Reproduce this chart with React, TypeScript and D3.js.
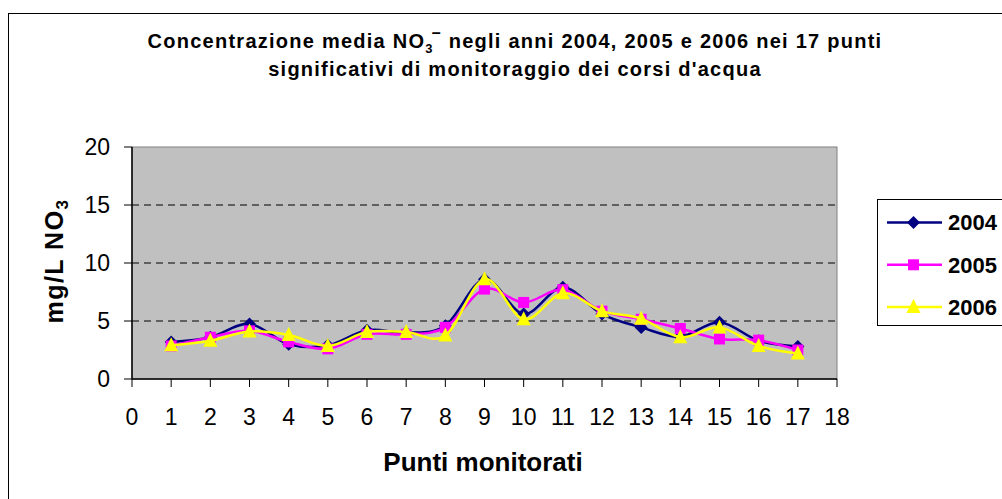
import React from "react";
import * as d3 from "d3";

const points = [1, 2, 3, 4, 5, 6, 7, 8, 9, 10, 11, 12, 13, 14, 15, 16, 17];
const v2004 = [3.2, 3.6, 4.75, 3.0, 2.9, 4.2, 4.0, 4.6, 8.6, 5.6, 7.9, 5.6, 4.45, 3.65, 4.9, 3.3, 2.8];
const v2005 = [2.85, 3.6, 4.15, 3.2, 2.6, 3.85, 3.85, 4.45, 7.75, 6.6, 7.7, 5.85, 5.15, 4.35, 3.45, 3.35, 2.5];
const v2006 = [2.9, 3.3, 4.1, 3.8, 2.85, 4.05, 4.05, 3.75, 8.6, 5.15, 7.4, 5.85, 5.2, 3.6, 4.45, 2.85, 2.2];
const xTicks = d3.range(0, 19);
const yTicks = [0, 5, 10, 15, 20];
const gridTicks = [5, 10, 15];
const seriesNames = ["2004", "2005", "2006"];
const seriesColors = ["#000080", "#FF00FF", "#FFFF00"];
const seriesShapes = ["diamond", "square", "triangle"];
const seriesValues = [v2004, v2005, v2006];

const L = 132, R = 837, T = 147, B = 379;

function Marker({ shape, x, y, color }: { shape: string; x: number; y: number; color: string }) {
  if (shape === "diamond") {
    const s = 6.5;
    return <path d={`M${x},${y - s}L${x + s},${y}L${x},${y + s}L${x - s},${y}Z`} fill={color} />;
  }
  if (shape === "square") {
    const s = 5.5;
    return <rect x={x - s} y={y - s} width={2 * s} height={2 * s} fill={color} />;
  }
  const s = 7;
  return <path d={`M${x},${y - s - 1}L${x + s},${y + s - 1}L${x - s},${y + s - 1}Z`} fill={color} />;
}

export default function App() {
  const x = d3.scaleLinear().domain([0, 18]).range([L, R]);
  const y = d3.scaleLinear().domain([0, 20]).range([B, T]);
  const line = d3
    .line<number>()
    .x((_, i) => x(points[i]))
    .y((d) => y(d))
    .curve(d3.curveCatmullRom.alpha(0));

  const font = "Arial, 'Liberation Sans', sans-serif";

  return (
    <svg
      width={1002}
      height={499}
      style={{ position: "absolute", left: 0, top: 0, background: "#fff" }}
      fontFamily={font}
    >
      <rect x={8.5} y={13.5} width={1040} height={520} fill="#fff" stroke="#000" strokeWidth={1} />
      <text x={515} y={48} textAnchor="middle" fontSize={20} fontWeight="bold" letterSpacing={1.25}>
        Concentrazione media NO
        <tspan fontSize={13} dy={5}>3</tspan>
        <tspan fontSize={16} dy={-15} dx={-2}>–</tspan>
        <tspan dy={10}> negli anni 2004, 2005 e 2006 nei 17 punti</tspan>
      </text>
      <text x={515} y={76} textAnchor="middle" fontSize={20} fontWeight="bold" letterSpacing={1.25}>
        significativi di monitoraggio dei corsi d'acqua
      </text>

      <rect x={L} y={T} width={R - L} height={B - T} fill="#C0C0C0" stroke="#808080" strokeWidth={1} />
      {gridTicks.map((t) => (
        <line key={t} x1={L} x2={R} y1={y(t)} y2={y(t)} stroke="#000" strokeWidth={1} strokeDasharray="7,5" />
      ))}
      <line x1={L} x2={L} y1={T} y2={B} stroke="#000" strokeWidth={1.5} />
      <line x1={L} x2={R} y1={B} y2={B} stroke="#000" strokeWidth={1.5} />
      {yTicks.map((t) => (
        <g key={t}>
          <line x1={L - 8} x2={L} y1={y(t)} y2={y(t)} stroke="#000" />
          <text x={110} y={y(t)} dy="0.36em" textAnchor="end" fontSize={23}>
            {t}
          </text>
        </g>
      ))}
      {xTicks.map((t) => (
        <g key={t}>
          <line x1={x(t)} x2={x(t)} y1={B} y2={B + 8} stroke="#000" />
          <text x={x(t)} y={425} textAnchor="middle" fontSize={23}>
            {t}
          </text>
        </g>
      ))}
      <text x={483} y={471} textAnchor="middle" fontSize={26} fontWeight="bold">
        Punti monitorati
      </text>
      <text transform="translate(63,261) rotate(-90)" textAnchor="middle" fontSize={25} fontWeight="bold" letterSpacing={1.5}>
        mg/L NO<tspan fontSize={17} dy={5}>3</tspan>
      </text>

      {seriesValues.map((vals, si) => (
        <g key={si}>
          <path d={line(vals) || ""} fill="none" stroke={seriesColors[si]} strokeWidth={2.5} />
          {vals.map((v, i) => (
            <Marker key={i} shape={seriesShapes[si]} x={x(points[i])} y={y(v)} color={seriesColors[si]} />
          ))}
        </g>
      ))}

      <rect x={877.5} y={199.5} width={200} height={126} fill="#fff" stroke="#000" strokeWidth={1} />
      {seriesNames.map((n, i) => {
        const cy = 222.5 + i * 42.3;
        return (
          <g key={n}>
            <line x1={887} x2={942} y1={cy} y2={cy} stroke={seriesColors[i]} strokeWidth={2.5} />
            <Marker shape={seriesShapes[i]} x={913.5} y={cy} color={seriesColors[i]} />
            <text x={948} y={cy} dy="0.36em" fontSize={22} fontWeight="bold">
              {n}
            </text>
          </g>
        );
      })}
    </svg>
  );
}
